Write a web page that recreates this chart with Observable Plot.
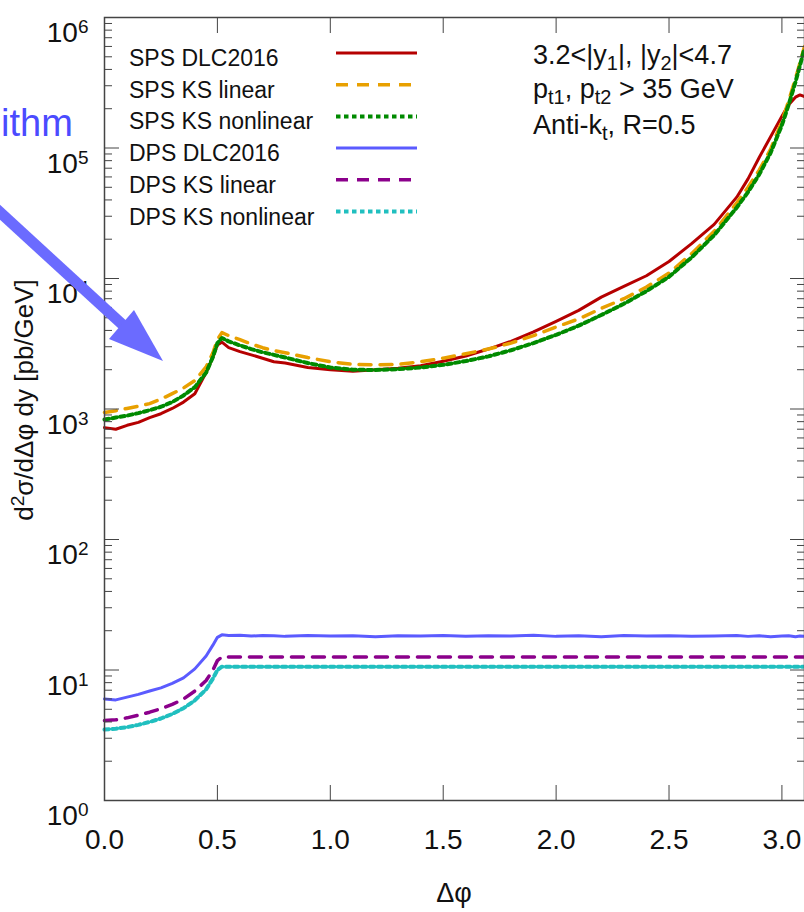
<!DOCTYPE html>
<html><head><meta charset="utf-8">
<script src="https://cdn.jsdelivr.net/npm/d3@7"></script>
<script src="https://cdn.jsdelivr.net/npm/@observablehq/plot@0.6"></script>
<style>
html,body{margin:0;padding:0;background:#fff;overflow:hidden;}
#chart svg{display:block;}
</style></head><body><div id="chart"></div>
<script>
// Δφ sample points
const phi = [0, 0.05, 0.1, 0.15, 0.2, 0.25, 0.3, 0.35, 0.4, 0.45, 0.48, 0.5, 0.52, 0.55, 0.6, 0.65, 0.7, 0.75, 0.8, 0.9,
  1.0, 1.1, 1.2, 1.3, 1.4, 1.5, 1.6, 1.7, 1.8, 1.9, 2.0, 2.1, 2.2, 2.3, 2.4, 2.5, 2.6, 2.7, 2.8, 2.85, 2.9, 2.95, 3.0, 3.03, 3.06, 3.08, 3.1];

const spsDLC = [720, 700, 750, 790, 860, 920, 1010, 1130, 1310, 1900, 2500, 3100, 3250, 2950, 2750, 2600, 2450, 2300, 2250, 2080,
  2000, 1950, 2000, 2050, 2150, 2320, 2550, 2880, 3300, 3900, 4700, 5700, 7200, 8700, 10500, 13500, 18500, 26000, 42000, 58000, 85000, 122000, 175000, 215000, 245000, 255000, 248000];
const spsKSlin = [940, 970, 1010, 1050, 1100, 1190, 1310, 1450, 1650, 2100, 2700, 3400, 3850, 3650, 3400, 3150, 2950, 2800, 2700, 2480,
  2300, 2200, 2180, 2200, 2300, 2450, 2650, 2880, 3200, 3650, 4250, 4900, 5900, 7000, 8600, 11000, 15500, 23000, 38000, 50000, 68000, 98000, 160000, 230000, 340000, 450000, 600000];
const spsKSnl = [830, 860, 890, 930, 980, 1040, 1130, 1270, 1470, 1900, 2500, 3200, 3500, 3300, 3070, 2880, 2720, 2600, 2480, 2250,
  2080, 2000, 1990, 2020, 2080, 2180, 2330, 2530, 2820, 3200, 3700, 4350, 5250, 6400, 8000, 10300, 14500, 21500, 35000, 46000, 63000, 92000, 150000, 215000, 320000, 430000, 580000];
const dpsDLC = [6.0, 5.9, 6.2, 6.5, 6.9, 7.3, 7.9, 8.7, 10.2, 12.8, 15.5, 17.8, 18.6, 18.4, 18.5, 18.2, 18.4, 18.3, 18.1, 18.4,
  18.2, 18.3, 18.0, 18.3, 18.2, 18.4, 18.1, 18.3, 18.2, 18.5, 18.1, 18.3, 18.0, 18.4, 18.2, 18.3, 18.1, 18.2, 18.4, 18.1, 18.3, 18.0, 18.2, 18.3, 18.0, 18.2, 18.1];
const dpsKSlin = [4.1, 4.15, 4.3, 4.5, 4.75, 5.05, 5.45, 6.0, 6.9, 8.3, 10.0, 11.8, 12.6, 12.6, 12.6, 12.6, 12.6, 12.6, 12.6, 12.6,
  12.6, 12.6, 12.6, 12.6, 12.6, 12.6, 12.6, 12.6, 12.6, 12.6, 12.6, 12.6, 12.6, 12.6, 12.6, 12.6, 12.6, 12.6, 12.6, 12.6, 12.6, 12.6, 12.6, 12.6, 12.6, 12.6, 12.6];
const dpsKSnl = [3.5, 3.55, 3.65, 3.8, 4.0, 4.25, 4.6, 5.1, 5.85, 7.1, 8.6, 10.0, 10.6, 10.6, 10.6, 10.6, 10.6, 10.6, 10.6, 10.6,
  10.6, 10.6, 10.6, 10.6, 10.6, 10.6, 10.6, 10.6, 10.6, 10.6, 10.6, 10.6, 10.6, 10.6, 10.6, 10.6, 10.6, 10.6, 10.6, 10.6, 10.6, 10.6, 10.6, 10.6, 10.6, 10.6, 10.6];

const seriesNames = ["SPS DLC2016", "SPS KS linear", "SPS KS nonlinear", "DPS DLC2016", "DPS KS linear", "DPS KS nonlinear"];
const seriesValues = [spsDLC, spsKSlin, spsKSnl, dpsDLC, dpsKSlin, dpsKSnl];
const seriesColors = ["#b50000", "#e8a000", "#008a00", "#5b5bff", "#8b008b", "#20bfbf"];
const seriesDash = [null, "12,9", "4.5,3.5", null, "12,9", "4.5,3.5"];
const seriesWidth = [3, 3.5, 4, 3, 3.5, 4];

const xTicks = [0, 0.5, 1, 1.5, 2, 2.5, 3];
const yMajor = [1, 10, 100, 1e3, 1e4, 1e5, 1e6];
const yMinor = [1, 10, 100, 1e3, 1e4, 1e5].flatMap(d => [2,3,4,5,6,7,8,9].map(k => k * d));

const FONT = "'Liberation Sans', Arial, Helvetica, sans-serif";
const AX = "#444";

const lineMarks = seriesNames.map((name, s) =>
  Plot.line(phi.map((x, i) => ({x, y: seriesValues[s][i]})), {
    x: "x", y: "y", stroke: seriesColors[s], strokeWidth: seriesWidth[s],
    strokeDasharray: seriesDash[s], strokeLinejoin: "round"
  }));

const plot = Plot.plot({
  width: 804, height: 912,
  marginTop: 17, marginBottom: 112, marginLeft: 104, marginRight: 0,
  style: {fontFamily: FONT, fontSize: "28px", color: "#111", background: "#fff", overflow: "visible"},
  x: {domain: [0, 3.1]},
  y: {type: "log", domain: [1, 1e6]},
  marks: [
    ...lineMarks,
    Plot.frame({stroke: AX, strokeWidth: 1.5}),
    Plot.axisX(xTicks, {anchor: "bottom", tickSize: 0, tickPadding: 24, tickFormat: d3.format(".1f"), label: null}),
    Plot.axisX(xTicks, {anchor: "bottom", tickSize: -15, tickFormat: () => "", label: null, stroke: AX}),
    Plot.axisX(xTicks, {anchor: "top", tickSize: -15, tickFormat: () => "", label: null, stroke: AX}),
    Plot.axisY(yMajor, {anchor: "left", tickSize: 0, tickPadding: 16, tickFormat: d => String(Math.round(Math.log10(d))), label: null}),
    Plot.axisY(yMajor, {anchor: "left", tickSize: -15, tickFormat: () => "", label: null, stroke: AX}),
    Plot.axisY(yMinor, {anchor: "left", tickSize: -8, tickFormat: () => "", label: null, stroke: AX}),
    Plot.axisY(yMajor, {anchor: "right", tickSize: -15, tickFormat: () => "", label: null, stroke: AX}),
    Plot.axisY(yMinor, {anchor: "right", tickSize: -8, tickFormat: () => "", label: null, stroke: AX})
  ]
});
document.getElementById("chart").appendChild(plot);

const svg = d3.select(plot);

// x tick labels: nudge them below the frame
svg.selectAll("g[aria-label='x-axis tick label'] text").each(function() {
  const tr = this.getAttribute("transform") || "";
  this.setAttribute("transform", tr + " translate(0,5)");
});

// y tick labels as 10^n with superscripts
svg.selectAll("g[aria-label='y-axis tick label'] text").each(function() {
  const t = d3.select(this);
  const e = t.text();
  if (e === "") return;
  t.text("");
  t.attr("dy", null);
  t.append("tspan").attr("dy", "16").text("10");
  t.append("tspan").attr("dy", "-9").attr("font-size", "19px").text(e);
});

function rich(sel, parts) {
  let cur = 0;
  parts.forEach(([s, kind]) => {
    const target = kind === "sub" ? 6 : kind === "sup" ? -9 : 0;
    const ts = sel.append("tspan").attr("dy", target - cur).text(s);
    if (kind) ts.attr("font-size", "0.74em");
    cur = target;
  });
}

const ann = svg.append("g").attr("font-family", FONT).attr("fill", "#111").attr("text-anchor", "start");

// legend
seriesNames.forEach((name, i) => {
  const yb = 66 + i * 31.7;
  ann.append("text").attr("x", 129).attr("y", yb).attr("font-size", 23).text(name);
  ann.append("line").attr("x1", 336).attr("x2", 417).attr("y1", yb - 13).attr("y2", yb - 13)
    .attr("stroke", seriesColors[i]).attr("stroke-width", seriesWidth[i])
    .attr("stroke-dasharray", seriesDash[i]);
});

// annotation
const a1 = ann.append("text").attr("x", 533).attr("y", 64).attr("font-size", 27);
rich(a1, [["3.2<|y"], ["1", "sub"], ["|, |y"], ["2", "sub"], ["|<4.7"]]);
const a2 = ann.append("text").attr("x", 533).attr("y", 98).attr("font-size", 27);
rich(a2, [["p"], ["t1", "sub"], [", p"], ["t2", "sub"], [" > 35 GeV"]]);
const a3 = ann.append("text").attr("x", 533).attr("y", 134).attr("font-size", 27);
rich(a3, [["Anti-k"], ["t", "sub"], [", R=0.5"]]);

// axis titles
ann.append("text").attr("x", 454).attr("y", 902).attr("text-anchor", "middle").attr("font-size", 27).text("Δφ");
const yl = ann.append("text").attr("transform", "translate(33,400) rotate(-90)")
  .attr("text-anchor", "middle").attr("font-size", 26);
rich(yl, [["d"], ["2", "sup"], ["σ/dΔφ dy [pb/GeV]"]]);

// overlay arrow and clipped word
ann.append("text").attr("x", 1).attr("y", 136).attr("font-size", 38).attr("fill", "#4b4bff").text("ithm");
ann.append("line").attr("x1", -20).attr("y1", 194).attr("x2", 124).attr("y2", 326)
  .attr("stroke", "#6b6bff").attr("stroke-width", 11);
ann.append("polygon").attr("points", "163,361 109,339 134,310").attr("fill", "#6b6bff");
</script></body></html>
